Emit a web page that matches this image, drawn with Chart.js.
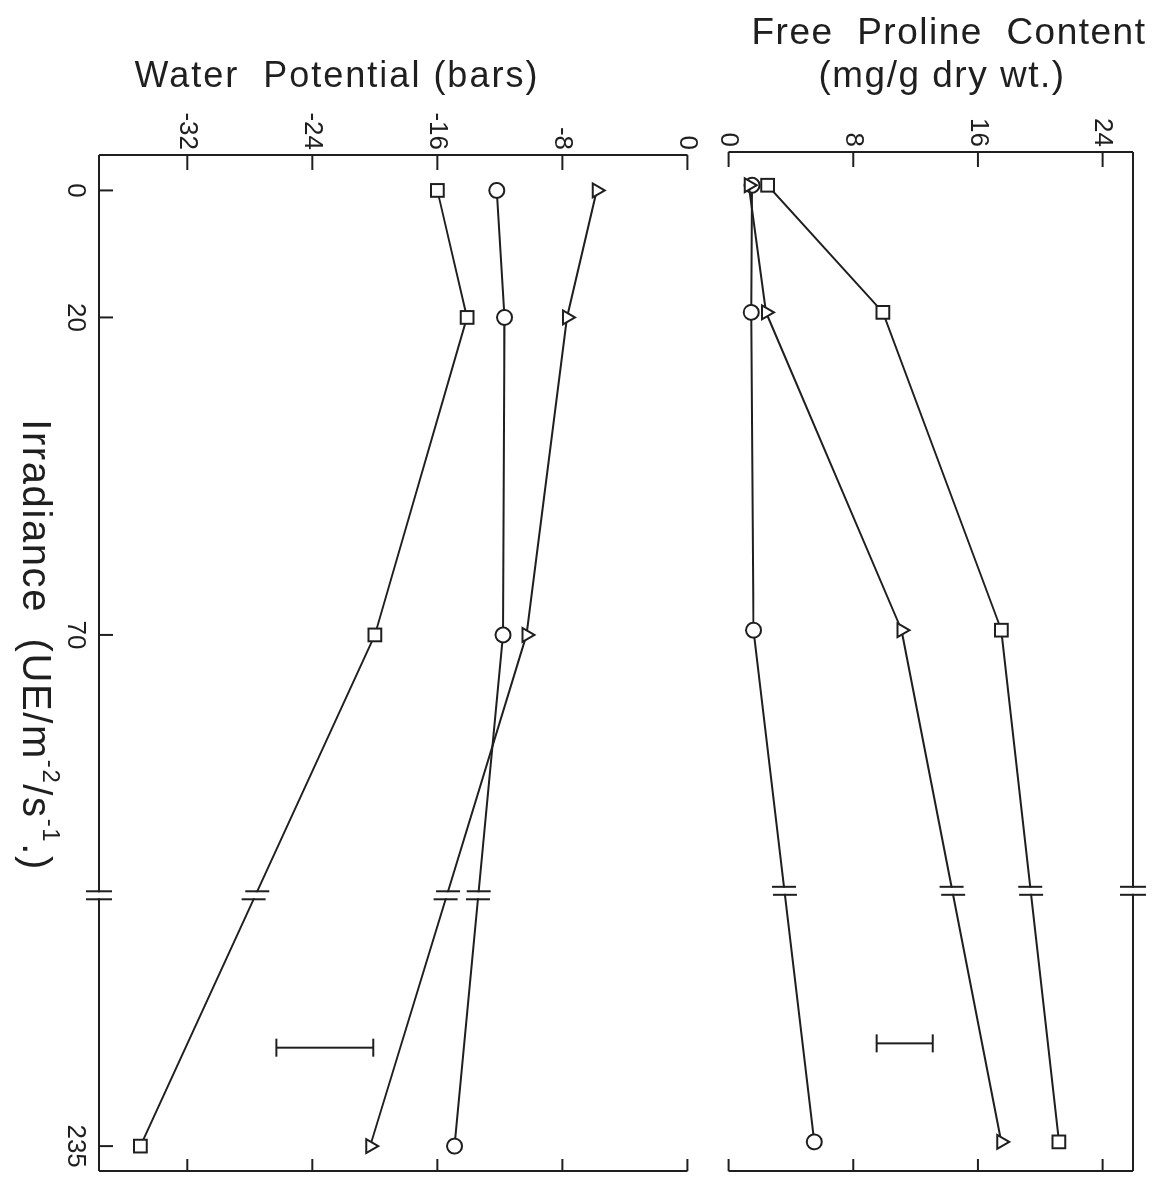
<!DOCTYPE html>
<html>
<head>
<meta charset="utf-8">
<script src="https://cdn.jsdelivr.net/npm/chart.js@4.4.1/dist/chart.umd.min.js"></script>
<style>
  html, body { margin: 0; padding: 0; background: #fff; overflow: hidden; }
  /* figura montada "deitada" e girada 90 graus, como na página original */
  #figura {
    position: absolute; left: 0; top: 0;
    width: 1182px; height: 1166px;
    transform-origin: 0 0;
    transform: translate(1166px, 0) rotate(90deg);
  }
  #figura canvas { position: absolute; left: 0; }
</style>
</head>
<body>
<div id="figura">
  <canvas id="graficoProlina" width="1182" height="458" style="top:0"></canvas>
  <canvas id="graficoPotencial" width="1182" height="708" style="top:458px"></canvas>
</div>
<script>
// Irradiância (uE/m2/s)
const irradiancia = [0, 20, 70, 235];

// Prolina livre (mg/g peso seco)
const prolinaQuadrado = [2.5, 9.9, 17.5, 21.2];
const prolinaTriangulo = [1.3, 2.4, 11.1, 17.5];
const prolinaCirculo = [1.5, 1.45, 1.6, 5.5];

// Potencial hídrico (bars)
const potencialQuadrado = [-16.0, -14.1, -20.0, -35.0];
const potencialCirculo = [-12.2, -11.7, -11.8, -14.9];
const potencialTriangulo = [-5.8, -7.7, -10.3, -20.3];

// Marcas dos eixos
const ticksIrradiancia = [0, 20, 70, 235];
const ticksProlina = [0, 8, 16, 24];
const ticksPotencial = [-32, -24, -16, -8, 0];

// Barras de erro (irradiância onde aparecem, limites)
const erroIrradiancia = 219.5;
const erroProlina = [9.5, 13.1];
const erroPotencial = [-26.3, -20.1];

// Eixo interrompido: acima de 100 o eixo é encurtado
const encurtamento = 84.5;
function posEixo(v) {
    return v > 100 ? v - encurtamento : v;
}
const posQuebra = 111;

const tinta = '#1f1f1f';
const fonte = '"Liberation Sans", Arial, sans-serif';

function serie(valores, estilo, raio) {
    return {
        data: valores.map((v, i) => ({ x: posEixo(irradiancia[i]), y: v })),
        borderColor: tinta,
        borderWidth: 2,
        pointStyle: estilo,
        pointRadius: raio,
        pointBorderWidth: 2,
        pointBorderColor: tinta,
        pointBackgroundColor: '#fff',
        tension: 0,
    };
}

// Moldura, marcas internas, quebra do eixo e barra de erro
function moldura(op) {
    return {
        id: 'moldura',
        afterDatasetsDraw(chart) {
            const ctx = chart.ctx;
            const { left, right, top, bottom } = chart.chartArea;
            const xs = chart.scales.x, ys = chart.scales.y;
            const linha = (x1, y1, x2, y2) => {
                ctx.beginPath(); ctx.moveTo(x1, y1); ctx.lineTo(x2, y2); ctx.stroke();
            };
            ctx.save();
            ctx.strokeStyle = tinta;
            ctx.lineWidth = 2;

            linha(left, top, left, bottom);
            linha(right, top, right, bottom);
            const yEixo = op.eixo === 'baixo' ? bottom : top;
            linha(left, yEixo, right, yEixo);

            ys.ticks.forEach(t => {
                const y = ys.getPixelForValue(t.value);
                linha(left, y, left + 15, y);
                linha(right, y, right - 12, y);
            });
            if (op.eixo === 'baixo') {
                xs.ticks.forEach(t => {
                    const x = xs.getPixelForValue(t.value);
                    linha(x, bottom, x, bottom - 14);
                });
            }

            // abre o espaço da quebra
            const xq = xs.getPixelForValue(posQuebra);
            const meia = 4;
            ctx.fillStyle = '#fff';
            ctx.fillRect(xq - meia + 1, top - 4, 2 * meia - 2, bottom - top + 8);

            chart.data.datasets.forEach((ds, i) => {
                const pts = chart.getDatasetMeta(i).data;
                const a = pts[2], b = pts[3];
                [-meia, meia].forEach(d => {
                    const x = xq + d;
                    const y = a.y + (b.y - a.y) * (x - a.x) / (b.x - a.x);
                    linha(x, y - 12, x, y + 12);
                });
            });
            [-meia, meia].forEach(d => linha(xq + d, yEixo - 13, xq + d, yEixo + 13));

            // barra de erro
            const xe = xs.getPixelForValue(posEixo(erroIrradiancia));
            const y1 = ys.getPixelForValue(op.erro[0]);
            const y2 = ys.getPixelForValue(op.erro[1]);
            linha(xe, y1, xe, y2);
            linha(xe - 9, y1, xe + 9, y1);
            linha(xe - 9, y2, xe + 9, y2);
            ctx.restore();
        }
    };
}

// Títulos dos eixos, com expoentes
function titulos(itens) {
    return {
        id: 'titulos',
        afterDraw(chart) {
            const ctx = chart.ctx;
            itens.forEach(it => {
                ctx.save();
                ctx.translate(it.x, it.y);
                if (it.girar) ctx.rotate(-Math.PI / 2);
                ctx.fillStyle = tinta;
                ctx.textBaseline = 'middle';
                ctx.textAlign = 'left';
                ctx.letterSpacing = it.espaco + 'px';
                const fonteDe = p => (p.sup ? Math.round(it.tam * 0.6) : it.tam) + 'px ' + fonte;
                const larguras = it.partes.map(p => { ctx.font = fonteDe(p); return ctx.measureText(p.t).width; });
                let x = -larguras.reduce((s, w) => s + w, 0) / 2;
                it.partes.forEach((p, i) => {
                    ctx.font = fonteDe(p);
                    ctx.fillText(p.t, x, p.sup ? -it.tam * 0.38 : 0);
                    x += larguras[i];
                });
                ctx.restore();
            });
        }
    };
}

const fonteTicks = { family: fonte, size: 26 };

// Painel de prolina livre
new Chart(document.getElementById('graficoProlina'), {
    type: 'line',
    data: {
        datasets: [
            serie(prolinaQuadrado, 'rect', 9),
            serie(prolinaTriangulo, 'triangle', 8),
            serie(prolinaCirculo, 'circle', 7.5),
        ]
    },
    options: {
        responsive: false,
        animation: false,
        layout: { padding: { top: 33, bottom: 20, left: 0, right: 4 } },
        plugins: { legend: { display: false }, tooltip: { enabled: false } },
        scales: {
            x: { type: 'linear', display: false, min: -5.23, max: 155.08 },
            y: {
                min: 0,
                max: 25.95,
                afterFit: s => { s.width = 152; },
                afterBuildTicks: s => { s.ticks = ticksProlina.map(v => ({ value: v })); },
                grid: { display: false, drawTicks: false },
                border: { display: false },
                ticks: { padding: 5, font: fonteTicks, color: tinta },
            }
        }
    },
    plugins: [
        moldura({ eixo: 'cima', erro: erroProlina }),
        titulos([
            { partes: [{ t: 'Free  Proline  Content' }], x: 34, y: 217, girar: true, tam: 37, espaco: 1.5 },
            { partes: [{ t: '(mg/g dry wt.)' }], x: 77, y: 224, girar: true, tam: 37, espaco: 1.5 },
        ])
    ]
});

// Painel de potencial hídrico
new Chart(document.getElementById('graficoPotencial'), {
    type: 'line',
    data: {
        datasets: [
            serie(potencialQuadrado, 'rect', 9),
            serie(potencialCirculo, 'circle', 7.5),
            serie(potencialTriangulo, 'triangle', 8),
        ]
    },
    options: {
        responsive: false,
        animation: false,
        layout: { padding: { top: 19.4, bottom: 0, left: 0, right: 3 } },
        plugins: { legend: { display: false }, tooltip: { enabled: false } },
        scales: {
            x: {
                type: 'linear',
                min: -5.58,
                max: 154.42,
                afterFit: s => { s.height = 99; },
                afterBuildTicks: s => { s.ticks = ticksIrradiancia.map(v => ({ value: posEixo(v) })); },
                grid: { display: false, drawTicks: false },
                border: { display: false },
                ticks: {
                    padding: 8,
                    maxRotation: 0,
                    font: fonteTicks,
                    color: tinta,
                    callback: v => ticksIrradiancia.find(t => Math.abs(posEixo(t) - v) < 1e-6),
                },
            },
            y: {
                min: -37.65,
                max: 0,
                afterFit: s => { s.width = 155; },
                afterBuildTicks: s => { s.ticks = ticksPotencial.map(v => ({ value: v })); },
                grid: { display: false, drawTicks: false },
                border: { display: false },
                ticks: { padding: 5, font: fonteTicks, color: tinta },
            }
        }
    },
    plugins: [
        moldura({ eixo: 'baixo', erro: erroPotencial }),
        titulos([
            { partes: [{ t: 'Water  Potential (bars)' }], x: 77, y: 371, girar: true, tam: 36, espaco: 2 },
            {
                partes: [
                    { t: 'Irradiance  (UE/m' }, { t: '-2', sup: true },
                    { t: '/s' }, { t: '-1', sup: true }, { t: '.)' }
                ],
                x: 645, y: 674, girar: false, tam: 40, espaco: 1.6
            },
        ])
    ]
});
</script>
</body>
</html>
